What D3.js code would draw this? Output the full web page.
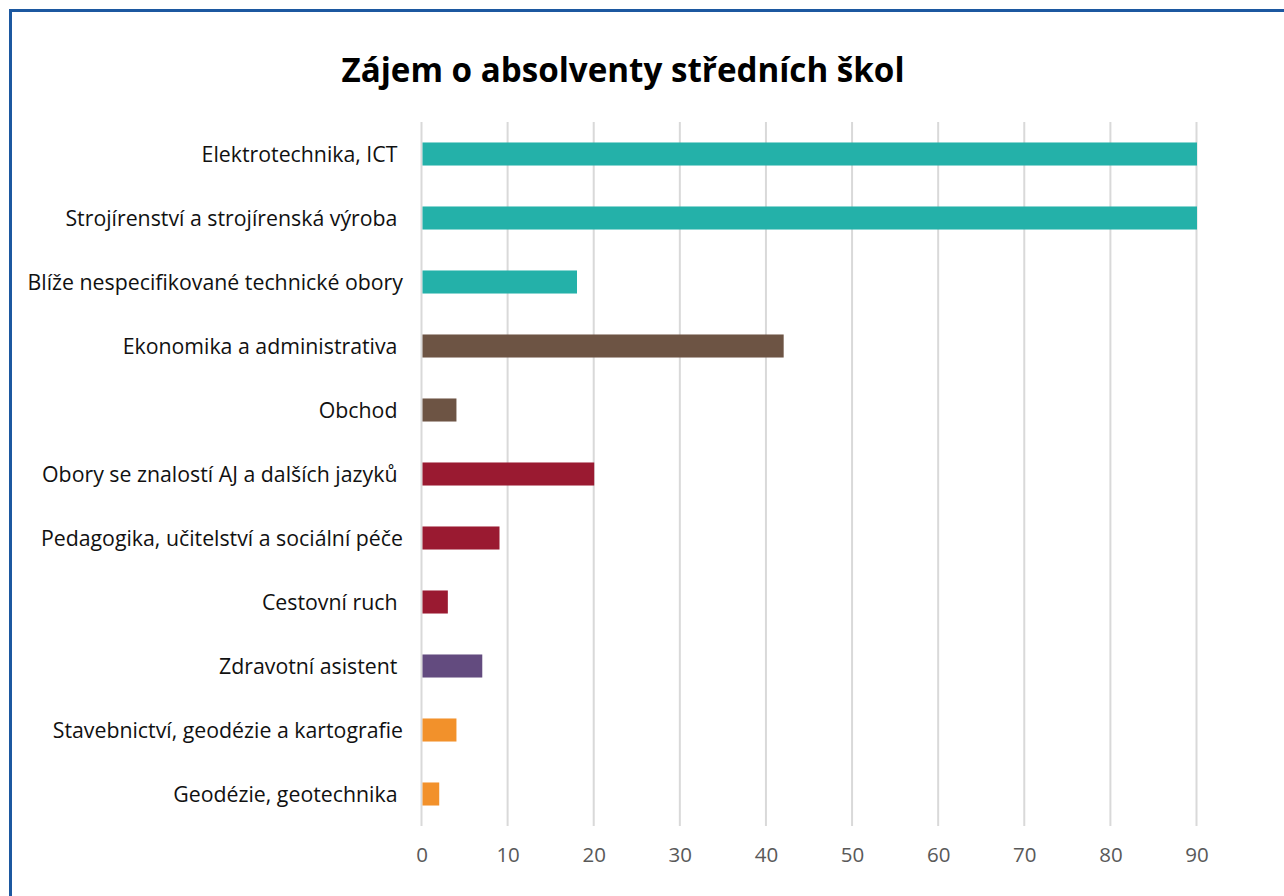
<!DOCTYPE html>
<html>
<head>
<meta charset="utf-8">
<script src="https://cdn.jsdelivr.net/npm/d3@7"></script>
<style>
  body { margin: 0; background: #fff; }
  text { font-family: "Open Sans", "Noto Sans", sans-serif; }
</style>
</head>
<body>
<svg id="chart" width="1284" height="896"></svg>
<script>
let svg = d3.select("#chart");
let width = +svg.attr("width");
let height = +svg.attr("height");

// data
let categories = [
    "Elektrotechnika, ICT ",
    "Strojírenství a strojírenská výroba ",
    "Blíže nespecifikované technické obory",
    "Ekonomika a administrativa ",
    "Obchod ",
    "Obory se znalostí AJ a dalších jazyků ",
    "Pedagogika, učitelství a sociální péče",
    "Cestovní ruch ",
    "Zdravotní asistent ",
    "Stavebnictví, geodézie a kartografie",
    "Geodézie, geotechnika "
];
let values = [90, 90, 18, 42, 4, 20, 9, 3, 7, 4, 2];
let groups = ["tech", "tech", "tech", "econ", "econ", "soc", "soc", "soc", "health", "build", "build"];
let ticks = [0, 10, 20, 30, 40, 50, 60, 70, 80, 90];

let groupColors = {
    tech: "#24B1A9",
    econ: "#6D5444",
    soc: "#9A1A31",
    health: "#634B7F",
    build: "#F2912B"
};

// frame
svg.append("rect")
    .attr("x", 10.5).attr("y", 10.5)
    .attr("width", width + 20).attr("height", height + 20)
    .attr("fill", "none")
    .attr("stroke", "#1C58A0")
    .attr("stroke-width", 3);

svg.append("text")
    .attr("x", 623)
    .attr("y", 82)
    .attr("text-anchor", "middle")
    .attr("font-size", 34)
    .attr("font-weight", 700)
    .attr("textLength", 563)
    .attr("lengthAdjust", "spacingAndGlyphs")
    .text("Zájem o absolventy středních škol");

let x = d3.scaleLinear().domain([0, 90]).range([421.5, 1196.5]);
let y = d3.scaleBand().domain(categories).range([122, 826]).paddingInner(0.64).paddingOuter(0.32);

// grid
svg.append("g")
    .selectAll("line")
    .data(ticks)
    .enter()
    .append("line")
    .attr("x1", d => x(d)).attr("x2", d => x(d))
    .attr("y1", 122).attr("y2", 826)
    .attr("stroke", "#D9D9D9")
    .attr("stroke-width", 2);

// bars
svg.append("g")
    .selectAll("rect")
    .data(values)
    .enter()
    .append("rect")
    .attr("x", x(0) + 1)
    .attr("y", (d, i) => y(categories[i]))
    .attr("height", y.bandwidth())
    .attr("width", d => x(d) - x(0) - 0.5)
    .attr("fill", (d, i) => groupColors[groups[i]]);

// category labels
svg.append("g")
    .selectAll("text")
    .data(categories)
    .enter()
    .append("text")
    .attr("x", 403)
    .attr("y", d => y(d) + y.bandwidth() / 2)
    .attr("dy", "0.36em")
    .attr("text-anchor", "end")
    .attr("font-size", 21.3)
    .attr("fill", "#111")
    .style("white-space", "pre")
    .text(d => d);

// x axis labels
let xAxis = d3.axisBottom(x).tickValues(ticks).tickSize(0).tickPadding(0);
let ax = svg.append("g")
    .attr("transform", "translate(0,850)")
    .call(xAxis);
ax.select(".domain").remove();
ax.selectAll("text")
    .attr("font-size", 20.5)
    .attr("fill", "#595959")
    .attr("font-family", "Open Sans, sans-serif")
    .attr("dy", "0.6em");
</script>
</body>
</html>
